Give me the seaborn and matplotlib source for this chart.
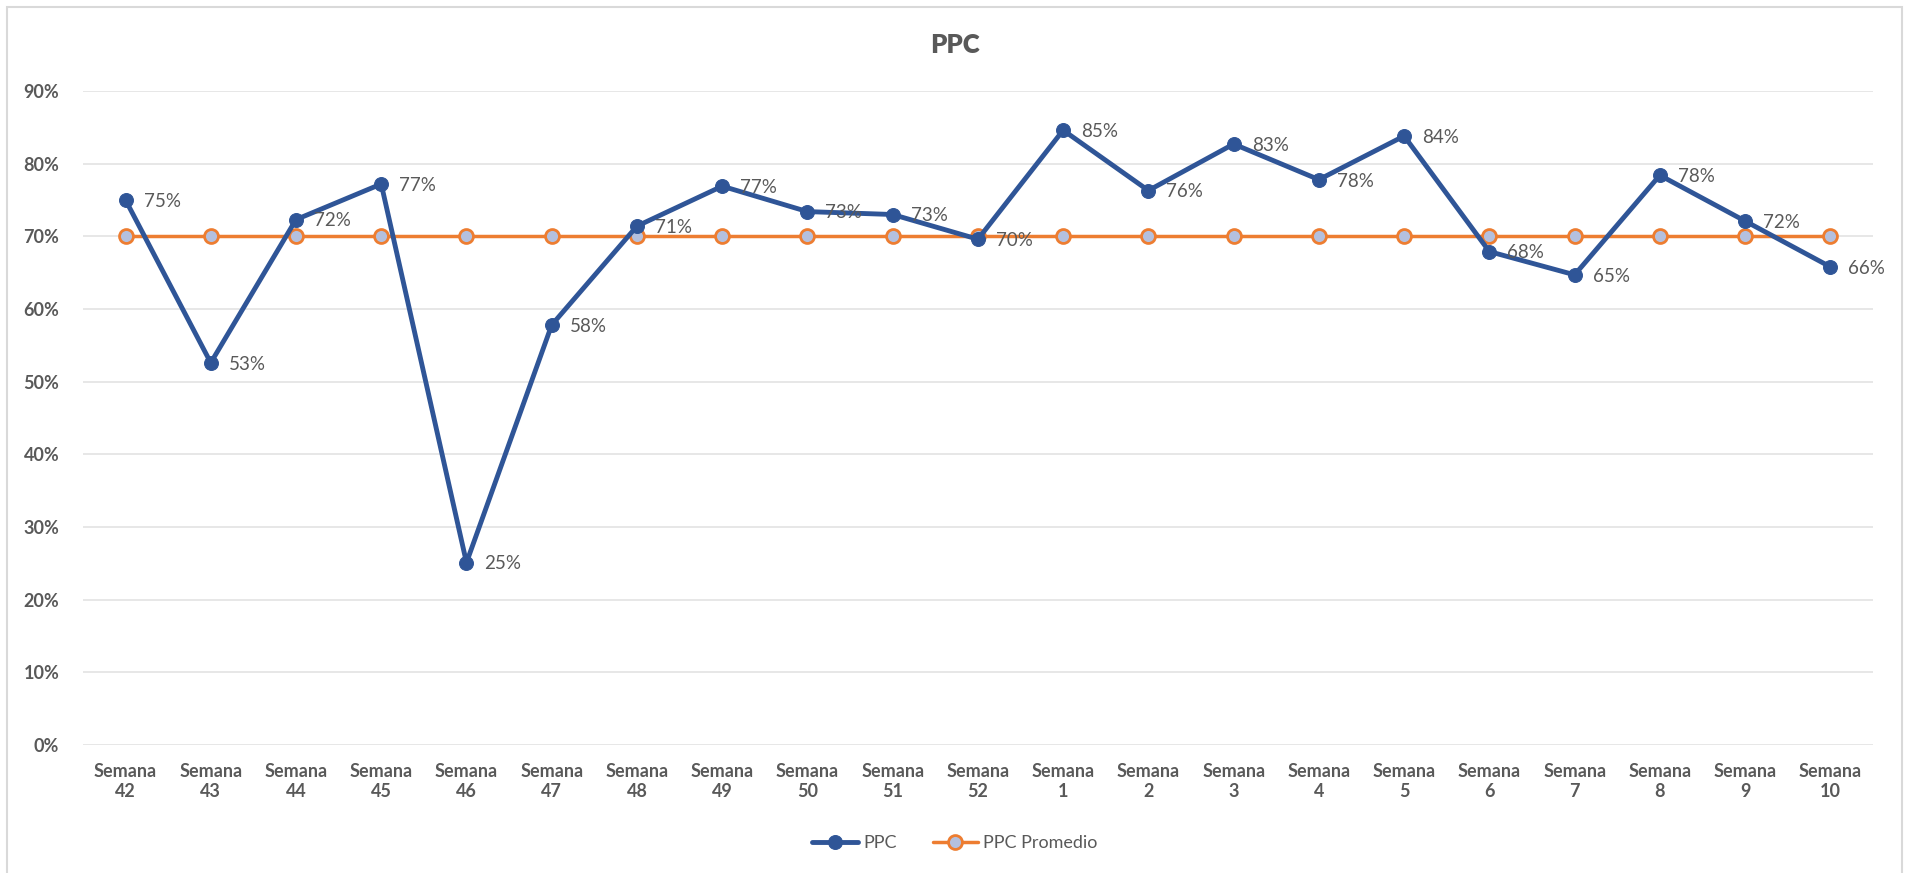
import pandas as pd
import seaborn as sns
import matplotlib.pyplot as plt
from matplotlib.patches import Rectangle
from matplotlib.ticker import PercentFormatter


weeks = ["Semana\n42", "Semana\n43", "Semana\n44", "Semana\n45", "Semana\n46", "Semana\n47",
         "Semana\n48", "Semana\n49", "Semana\n50", "Semana\n51", "Semana\n52", "Semana\n1",
         "Semana\n2", "Semana\n3", "Semana\n4", "Semana\n5", "Semana\n6", "Semana\n7",
         "Semana\n8", "Semana\n9", "Semana\n10"]
ppc = [75.0, 52.6, 72.3, 77.2, 25.1, 57.8, 71.4, 76.9, 73.4, 73.0, 69.6, 84.6,
       76.3, 82.7, 77.8, 83.8, 67.9, 64.7, 78.4, 72.1, 65.8]
ppc_prom = [70.0] * len(weeks)

df = pd.DataFrame({"Semana": weeks, "PPC": ppc, "PPC Promedio": ppc_prom})

sns.set_style("white")
plt.rcParams["font.family"] = ["Lato", "DejaVu Sans"]
grey = "#595959"
blue = "#2F5597"
orange = "#ED7D31"

fig = plt.figure(figsize=(19.1, 8.73), dpi=100)
ax = fig.add_axes([0.0434, 0.1466, 0.9372, 0.7492])

# chart border like the excel chart area
fig.patches.append(Rectangle((7 / 1910, -0.1), 1895 / 1910, 1.1 - 7 / 873, transform=fig.transFigure,
                             fill=False, edgecolor="#D9D9D9", lw=1.5))

sns.lineplot(data=df, x="Semana", y="PPC Promedio", ax=ax, color=orange, lw=2.5,
             marker="o", markersize=10, markerfacecolor="#B4C0DE", markeredgecolor=orange,
             markeredgewidth=2, label="PPC Promedio", sort=False, zorder=3)
sns.lineplot(data=df, x="Semana", y="PPC", ax=ax, color=blue, lw=3.5,
             marker="o", markersize=10, markeredgecolor=blue, label="PPC", sort=False, zorder=4)

# data labels
for i, v in enumerate(ppc):
    ax.annotate(f"{round(v):.0f}%", (i, v), xytext=(13, -1), textcoords="offset points",
                ha="left", va="center", fontsize=13.5, color=grey, zorder=5)

ax.set_xlim(-0.5, len(weeks) - 0.5)
ax.set_ylim(0, 90)
ax.set_yticks(range(0, 91, 10))
ax.yaxis.set_major_formatter(PercentFormatter(decimals=0))
ax.grid(axis="y", color="#E3E3E3", lw=1.2)
ax.set_axisbelow(True)
ax.set_xlabel("")
ax.set_ylabel("")
ax.tick_params(axis="both", length=0, labelsize=13, labelcolor=grey)
ax.tick_params(axis="y", pad=17)
ax.tick_params(axis="x", pad=13)
for lab in ax.get_xticklabels() + ax.get_yticklabels():
    lab.set_fontweight("bold")
sns.despine(ax=ax, left=True, bottom=True)

fig.text(0.5, 1 - 45 / 873, "PPC", ha="center", va="center", fontsize=18.5,
         fontweight="heavy", color=grey)

handles, labels = ax.get_legend_handles_labels()
order = [labels.index("PPC"), labels.index("PPC Promedio")]
ax.legend([handles[k] for k in order], [labels[k] for k in order], loc="center",
          bbox_to_anchor=(0.5, 1 - 843 / 873), bbox_transform=fig.transFigure, ncol=2,
          frameon=False, fontsize=13, labelcolor=grey, handlelength=2.5, columnspacing=2,
          handletextpad=0.3)

fig.savefig("out.png", dpi=100)
